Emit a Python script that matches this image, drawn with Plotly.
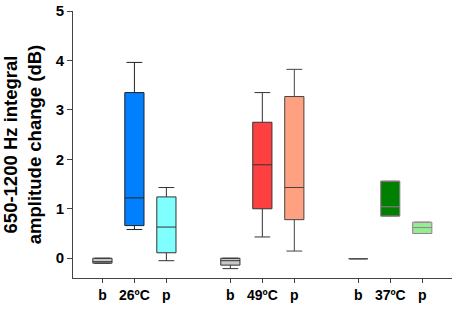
import plotly.graph_objects as go

groups = ["26ºC", "49ºC", "37ºC"]
members = ["b", "T", "p"]

q1 = [[-0.10, 0.66, 0.11], [-0.14, 1.00, 0.78], [-0.01, 0.85, 0.50]]
median = [[-0.07, 1.22, 0.63], [-0.05, 1.89, 1.43], [-0.01, 1.04, 0.62]]
q3 = [[0.00, 3.35, 1.24], [0.00, 2.75, 3.27], [-0.01, 1.56, 0.73]]
lowerfence = [[-0.10, 0.58, -0.05], [-0.21, 0.43, 0.145], [-0.01, 0.85, 0.50]]
upperfence = [[0.00, 3.96, 1.43], [0.00, 3.35, 3.82], [-0.01, 1.56, 0.73]]
y_ticks = [0, 1, 2, 3, 4, 5]

fills = [["#C8C8C8", "#0080FF", "#80FFFF"],
         ["#C8C8C8", "#FF4040", "#FFA080"],
         ["#C8C8C8", "#008000", "#90F090"]]
lines = [["#333333", "#222222", "#333333"],
         ["#333333", "#333333", "#444444"],
         ["#555555", "#A07898", "#A07898"]]

font = "Liberation Sans, Arial, sans-serif"
fig = go.Figure()
tickvals, ticktext = [], []
for g, gname in enumerate(groups):
    for j, m in enumerate(members):
        pos = 4 * g + j
        tickvals.append(pos)
        ticktext.append(gname if m == "T" else m)
        fig.add_trace(go.Box(
            x=[pos], q1=[q1[g][j]], median=[median[g][j]], q3=[q3[g][j]],
            lowerfence=[lowerfence[g][j]], upperfence=[upperfence[g][j]],
            width=0.6, whiskerwidth=0.82, fillcolor=fills[g][j],
            line=dict(color=lines[g][j], width=1), showlegend=False,
            hoverinfo="skip"))

fig.update_layout(
    width=454, height=309,
    margin=dict(l=73, r=2, t=7, b=31),
    plot_bgcolor="white", paper_bgcolor="white",
    font=dict(family=font, color="black"),
    xaxis=dict(range=[-0.92, 10.93], tickvals=tickvals, ticktext=ticktext,
               showline=True, linecolor="#444444", linewidth=1,
               ticks="outside", ticklen=4, tickcolor="#444444",
               tickfont=dict(size=14, family=font, weight="bold"),
               ticklabeloverflow="allow",
               showgrid=False, zeroline=False),
    yaxis=dict(range=[-0.4, 5.0], tickvals=y_ticks,
               showline=True, linecolor="#444444", linewidth=1,
               ticks="outside", ticklen=5, tickcolor="#444444",
               tickfont=dict(size=15, family=font, weight="bold"),
               ticklabeloverflow="allow",
               showgrid=False, zeroline=False,
               title=dict(text="650-1200 Hz integral<br>amplitude change (dB)",
                          font=dict(size=18.5, family=font, weight="bold"),
                          standoff=10)),
)
fig.write_html("out.html", config={"displayModeBar": False},
               post_script="document.body.style.margin='0';document.body.style.padding='0';")
